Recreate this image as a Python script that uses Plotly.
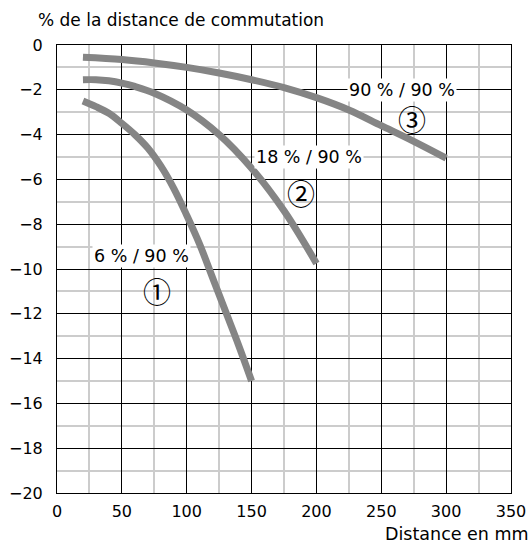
import plotly.graph_objects as go

# Data
c1_x = [20, 30, 40, 50, 60, 70, 80, 90, 100, 110, 120, 130, 140, 150]
c1_y = [-2.5, -2.75, -3.05, -3.5, -4.0, -4.6, -5.4, -6.4, -7.6, -8.9, -10.4, -11.9, -13.4, -15.0]

c2_x = [20, 30, 40, 50, 60, 75, 100, 125, 150, 175, 200]
c2_y = [-1.55, -1.55, -1.6, -1.7, -1.85, -2.15, -2.9, -4.0, -5.5, -7.4, -9.75]

c3_x = [20, 50, 75, 100, 125, 150, 175, 200, 225, 250, 275, 300]
c3_y = [-0.55, -0.65, -0.8, -1.0, -1.25, -1.55, -1.9, -2.35, -2.9, -3.6, -4.3, -5.05]

labels = ["6 % / 90 %", "18 % / 90 %", "90 % / 90 %"]
label_x = [65, 194.5, 265.7]
label_y = [-9.4, -5.0, -2.0]
marks = ["①", "②", "③"]
mark_x = [77.3, 188, 273.4]
mark_y = [-11.0, -6.6, -3.3]

FONT = "DejaVu Sans"
fig = go.Figure()
for xs, ys in [(c1_x, c1_y), (c2_x, c2_y), (c3_x, c3_y)]:
    fig.add_trace(go.Scatter(x=xs, y=ys, mode="lines",
                             line=dict(color="#858585", width=7, shape="spline", smoothing=1.0),
                             hoverinfo="skip", showlegend=False))

for t, x, y in zip(labels, label_x, label_y):
    fig.add_annotation(x=x, y=y, text=t, showarrow=False, bgcolor="white",
                       font=dict(family=FONT, size=17.5, color="black"), borderpad=1)
for t, x, y in zip(marks, mark_x, mark_y):
    fig.add_annotation(x=x, y=y, text=t, showarrow=False,
                       font=dict(family="Noto Sans CJK JP", size=28, color="black"))

fig.add_annotation(x=0, y=1, xref="paper", yref="paper", xanchor="left", yanchor="bottom",
                   xshift=-21, yshift=13, text="% de la distance de commutation", showarrow=False,
                   font=dict(family=FONT, size=17, color="black"))
fig.add_annotation(x=1, y=0, xref="paper", yref="paper", xanchor="right", yanchor="top",
                   xshift=20, yshift=-29, text="Distance en mm", showarrow=False,
                   font=dict(family=FONT, size=17.5, color="black"))

fig.update_layout(
    width=532, height=544,
    margin=dict(l=57, r=21, t=45, b=51),
    paper_bgcolor="white", plot_bgcolor="white",
    font=dict(family=FONT, size=16, color="black"),
    xaxis=dict(range=[0, 350], tickmode="linear", tick0=0, dtick=50, showgrid=True,
               gridcolor="black", gridwidth=1, automargin=False,
               showline=True, linecolor="black", linewidth=1, mirror=True, zeroline=False,
               ticks="", ticklabelstandoff=4,
               minor=dict(tickmode="linear", tick0=0, dtick=25, showgrid=True,
                          gridcolor="#cccccc", gridwidth=1.5)),
    yaxis=dict(range=[-20, 0], tickmode="linear", tick0=0, dtick=2, showgrid=True,
               gridcolor="black", gridwidth=1, automargin=False,
               showline=True, linecolor="black", linewidth=1, mirror=True, zeroline=False,
               ticks="", ticklabelstandoff=10,
               minor=dict(tickmode="linear", tick0=0, dtick=1, showgrid=True,
                          gridcolor="#cccccc", gridwidth=1.5)),
)
fig.write_html("out.html", config={"displayModeBar": False},
               post_script="document.body.style.margin='0';document.body.style.overflow='hidden';")
